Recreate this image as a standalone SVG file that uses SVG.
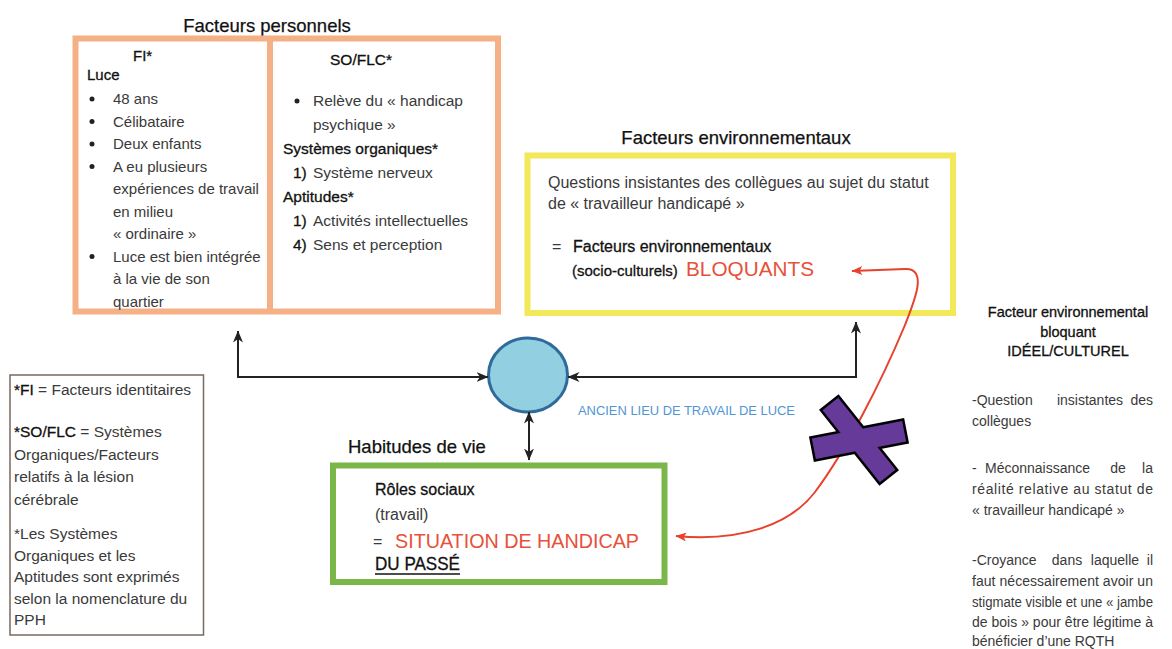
<svg xmlns="http://www.w3.org/2000/svg" width="1172" height="649" viewBox="0 0 1172 649">
<style>
text{font-family:"Liberation Sans",Arial,sans-serif;fill:#3a3a3a}
.t{fill:#111;font-size:18.5px;stroke:#111;stroke-width:.25}
.m{fill:#111;stroke:#111;stroke-width:.3}
.o{font-size:15px}
.r{font-size:15.5px}
.y{font-size:16px}
.g{font-size:16px}
.l{font-size:15.5px}
.p{font-size:14px}
.red{fill:#e8503a}
.box{fill:#fff;stroke-width:6}
.conn{fill:none;stroke:#222;stroke-width:2}
.rc{fill:none;stroke:#e8412c;stroke-width:2}
</style>
<defs>
<marker id="ab" viewBox="0 0 12 10" refX="11.5" refY="5" markerWidth="12" markerHeight="10" markerUnits="userSpaceOnUse" orient="auto-start-reverse">
<path d="M0,0 L12,5 L0,10 L3.5,5 z" fill="#222"/>
</marker>
<marker id="ar" viewBox="0 0 12 10" refX="11.5" refY="5" markerWidth="13" markerHeight="9" markerUnits="userSpaceOnUse" orient="auto">
<path d="M0,0 L12,5 L0,10 L3,5 z" fill="#e8412c"/>
</marker>
</defs>
<rect width="1172" height="649" fill="#fff"/>

<g id="facteurs-personnels">
<text class="t" x="267" y="32" text-anchor="middle" font-size="18">Facteurs personnels</text>
<rect class="box" x="75.5" y="38.5" width="422.5" height="273" stroke="#f5b085"/>
<line x1="270" y1="38.5" x2="270" y2="311.5" stroke="#f5b085" stroke-width="6"/>
<g class="o">
<text class="m" x="133" y="61">FI*</text>
<text class="m" x="87" y="80">Luce</text>
<g fill="#222">
<circle cx="92" cy="99" r="2.5"/><circle cx="92" cy="121.5" r="2.5"/><circle cx="92" cy="144" r="2.5"/><circle cx="92" cy="166.5" r="2.5"/><circle cx="92" cy="256.5" r="2.5"/>
</g>
<text x="113" y="104">48 ans</text>
<text x="113" y="126.5">Célibataire</text>
<text x="113" y="149">Deux enfants</text>
<text x="113" y="171.5">A eu plusieurs</text>
<text x="113" y="194">expériences de travail</text>
<text x="113" y="216.5">en milieu</text>
<text x="113" y="239">« ordinaire »</text>
<text x="113" y="261.5">Luce est bien intégrée</text>
<text x="113" y="284">à la vie de son</text>
<text x="113" y="306.5">quartier</text>
</g>
<g class="r">
<text class="m" x="361" y="65" text-anchor="middle">SO/FLC*</text>
<circle cx="297" cy="101" r="2.5" fill="#222"/>
<text x="313" y="106">Relève du « handicap</text>
<text x="313" y="130">psychique »</text>
<text class="m" x="283" y="154">Systèmes organiques*</text>
<text class="m" x="293" y="178">1)</text><text x="313" y="178">Système nerveux</text>
<text class="m" x="283" y="202">Aptitudes*</text>
<text class="m" x="293" y="226">1)</text><text x="313" y="226">Activités intellectuelles</text>
<text class="m" x="293" y="250">4)</text><text x="313" y="250">Sens et perception</text>
</g>
</g>

<g id="facteurs-environnementaux">
<text class="t" x="736" y="144" text-anchor="middle">Facteurs environnementaux</text>
<rect class="box" x="527.5" y="155.5" width="425.5" height="157.5" stroke="#f2e85a"/>
<g class="y">
<text x="548" y="188">Questions insistantes des collègues au sujet du statut</text>
<text x="548" y="209">de « travailleur handicapé »</text>
<text x="552" y="252">=</text>
<text class="m" x="573" y="252">Facteurs environnementaux</text>
<text class="m" x="572" y="276" font-size="15">(socio-culturels)</text>
<text class="red" x="686" y="276" font-size="21" textLength="128" lengthAdjust="spacingAndGlyphs">BLOQUANTS</text>
</g>
</g>

<g id="ancien-lieu">
<ellipse cx="528" cy="375" rx="39.5" ry="37" fill="#92cfe0" stroke="#2f6b9a" stroke-width="3"/>
<text x="578" y="415" font-size="13" style="fill:#5096d2" textLength="217" lengthAdjust="spacingAndGlyphs">ANCIEN LIEU DE TRAVAIL DE LUCE</text>
</g>

<g id="habitudes-de-vie">
<text class="t" x="348" y="453">Habitudes de vie</text>
<rect class="box" x="333" y="465.5" width="331.5" height="116.5" stroke="#7ab648"/>
<g class="g">
<text class="m" x="375" y="495">Rôles sociaux</text>
<text x="375" y="520">(travail)</text>
<text x="373" y="547">=</text>
<text class="red" x="395" y="548" font-size="19.5" textLength="244" lengthAdjust="spacingAndGlyphs">SITUATION DE HANDICAP</text>
<text class="m" x="375" y="570" font-size="17.5" textLength="85" lengthAdjust="spacingAndGlyphs">DU PASSÉ</text>
<line x1="375" y1="574" x2="460" y2="574" stroke="#111" stroke-width="1.5"/>
</g>
</g>

<g id="legende">
<rect x="10" y="375" width="193.5" height="260" fill="#fff" stroke="#7a6862" stroke-width="1.5"/>
<g class="l">
<text x="14" y="395"><tspan class="m">*FI</tspan> = Facteurs identitaires</text>
<text x="14" y="437"><tspan class="m">*SO/FLC</tspan> = Systèmes</text>
<text x="14" y="459.5">Organiques/Facteurs</text>
<text x="14" y="482">relatifs à la lésion</text>
<text x="14" y="504.5">cérébrale</text>
<text x="14" y="539">*Les Systèmes</text>
<text x="14" y="560.5">Organiques et les</text>
<text x="14" y="582">Aptitudes sont exprimés</text>
<text x="14" y="603.5">selon la nomenclature du</text>
<text x="14" y="625">PPH</text>
</g>
</g>

<g id="facteur-bloquant">
<g font-size="14.5">
<text class="m" x="1068" y="317" text-anchor="middle">Facteur environnemental</text>
<text class="m" x="1068" y="337" text-anchor="middle">bloquant</text>
<text class="m" x="1068" y="356" text-anchor="middle">IDÉEL/CULTUREL</text>
</g>
<g class="p">
<text x="972" y="405">-Question</text>
<text x="1090" y="405" text-anchor="middle">insistantes</text>
<text x="1153" y="405" text-anchor="end">des</text>
<text x="972" y="426">collègues</text>
<text x="972" y="473">-</text>
<text x="985" y="473">Méconnaissance</text>
<text x="1118" y="473" text-anchor="middle">de</text>
<text x="1153" y="473" text-anchor="end">la</text>
<text x="972" y="494" textLength="181" lengthAdjust="spacing">réalité relative au statut de</text>
<text x="972" y="515">« travailleur handicapé »</text>
<text x="972" y="565">-Croyance</text>
<text x="1067" y="565" text-anchor="middle">dans</text>
<text x="1115" y="565" text-anchor="middle">laquelle</text>
<text x="1153" y="565" text-anchor="end">il</text>
<text x="972" y="586" textLength="181" lengthAdjust="spacing">faut nécessairement avoir un</text>
<text x="972" y="606.5" textLength="181" lengthAdjust="spacingAndGlyphs">stigmate visible et une « jambe</text>
<text x="972" y="627" textLength="181" lengthAdjust="spacing">de bois » pour être légitime à</text>
<text x="972" y="646">bénéficier d’une RQTH</text>
</g>
</g>

<g id="connecteurs">
<polyline class="conn" points="238,331 238,377 488,377" marker-start="url(#ab)" marker-end="url(#ab)"/>
<polyline class="conn" points="856,322 856,377 568,377" marker-start="url(#ab)" marker-end="url(#ab)"/>
<line class="conn" x1="529" y1="412" x2="529" y2="460" marker-start="url(#ab)" marker-end="url(#ab)"/>
<path class="rc" d="M 905,269 C 928,268 915,300 905,325 C 880,385 845,452 815,492 C 790,525 740,542 676,536" marker-end="url(#ar)"/>
<path class="rc" d="M 905,269 L 852,271" marker-end="url(#ar)"/>
</g>

<g id="croix">
<g transform="translate(859,440)">
<rect x="-46" y="-10" width="92" height="20" transform="rotate(51.5)" fill="#000" stroke="#000" stroke-width="5"/>
<rect x="-46" y="-10.5" width="92" height="21" transform="rotate(-11)" fill="#000" stroke="#000" stroke-width="5"/>
<rect x="-46" y="-10" width="92" height="20" transform="rotate(51.5)" fill="#663a98"/>
<rect x="-46" y="-10.5" width="92" height="21" transform="rotate(-11)" fill="#663a98"/>
</g>
</g>
</svg>
